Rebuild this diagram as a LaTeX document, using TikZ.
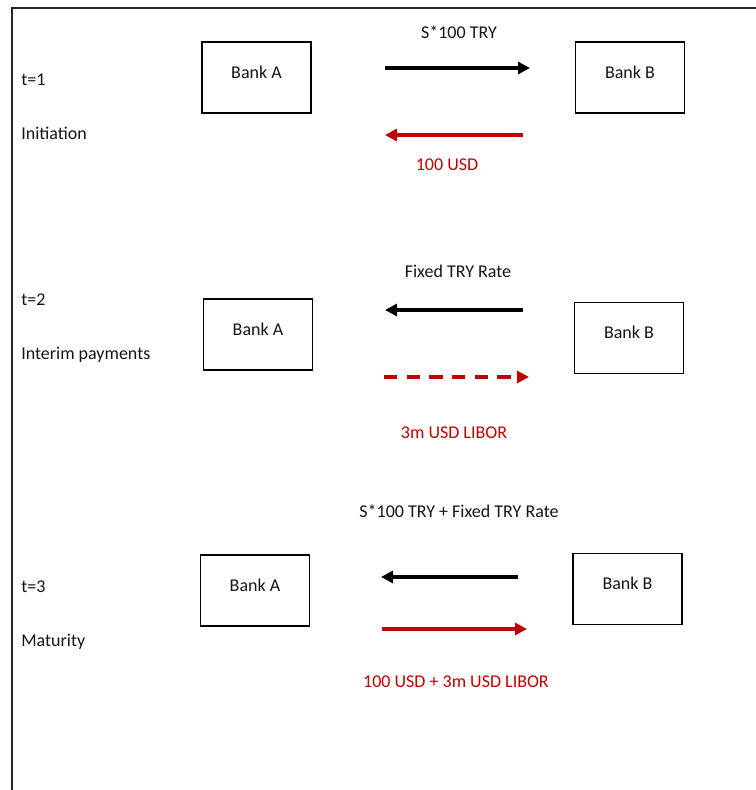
\documentclass[tikz,border=0pt]{standalone}
\usepackage{fontspec}
\setmainfont{Carlito}
\usetikzlibrary{arrows.meta}
\definecolor{swapred}{RGB}{192,0,0}
\definecolor{ink}{RGB}{20,20,25}
\tikzset{
  >={Triangle[length=9pt,width=9pt]},
  bank/.style={draw=black,line width=1.1pt,minimum width=81.5pt,minimum height=53pt,
    text depth=8pt,font=\fontsize{13.5}{16}\selectfont,text=ink},
  step label/.style={anchor=west,inner sep=0pt,font=\fontsize{13.5}{16}\selectfont,text=ink},
  leg/.style={font=\fontsize{13.5}{16}\selectfont,text=#1},
  leg/.default=ink,
  flow/.style={->,line width=2.4pt,draw=#1},
  flow/.default=black,
}

\begin{document}
\begin{tikzpicture}[x=0.75pt,y=-0.75pt]
  \useasboundingbox (0,0) rectangle (756,790);
  \draw[line width=1.3pt,black!85] (12,790) -- (12,8) -- (756,8);

  % t=1
  \node[step label] (t1) at (21,80) {t=1};
  \node[step label] (n1) at (21,133) {Initiation};
  \node[bank] (A1) at (256.5,77.5) {Bank A};
  \node[bank] (B1) at (630,77.5) {Bank B};
  \coordinate (p1) at (385,68);  \coordinate (q1) at (530,68);
  \coordinate (r1) at (523,135); \coordinate (s1) at (385,135);
  \draw[flow] (p1) -- (q1);
  \draw[flow=swapred] (r1) -- (s1);
  \node[leg] (l1) at (459,32) {S*100 TRY};
  \node[leg=swapred] (m1) at (447,165) {100 USD};

  % t=2
  \node[step label] (t2) at (21,300) {t=2};
  \node[step label] (n2) at (21,355) {Interim payments};
  \node[bank] (A2) at (258,334.5) {Bank A};
  \node[bank] (B2) at (629,338) {Bank B};
  \coordinate (p2) at (523,310); \coordinate (q2) at (385,310);
  \coordinate (r2) at (384,377); \coordinate (s2) at (529,377);
  \draw[flow] (p2) -- (q2);
  \draw[flow=swapred,dash pattern=on 10pt off 7pt] (r2) -- (s2);
  \node[leg] (l2) at (458,271) {Fixed TRY Rate};
  \node[leg=swapred] (m2) at (454,433) {3m USD LIBOR};

  % t=3
  \node[step label] (t3) at (21,587) {t=3};
  \node[step label] (n3) at (21,642) {Maturity};
  \node[bank] (A3) at (255,590.5) {Bank A};
  \node[bank] (B3) at (627.5,589) {Bank B};
  \coordinate (p3) at (518,577); \coordinate (q3) at (381,577);
  \coordinate (r3) at (382,629); \coordinate (s3) at (527,629);
  \draw[flow] (p3) -- (q3);
  \draw[flow=swapred] (r3) -- (s3);
  \node[leg] (l3) at (459,511) {S*100 TRY + Fixed TRY Rate};
  \node[leg=swapred] (m3) at (456,682) {100 USD + 3m USD LIBOR};
\end{tikzpicture}
\end{document}
